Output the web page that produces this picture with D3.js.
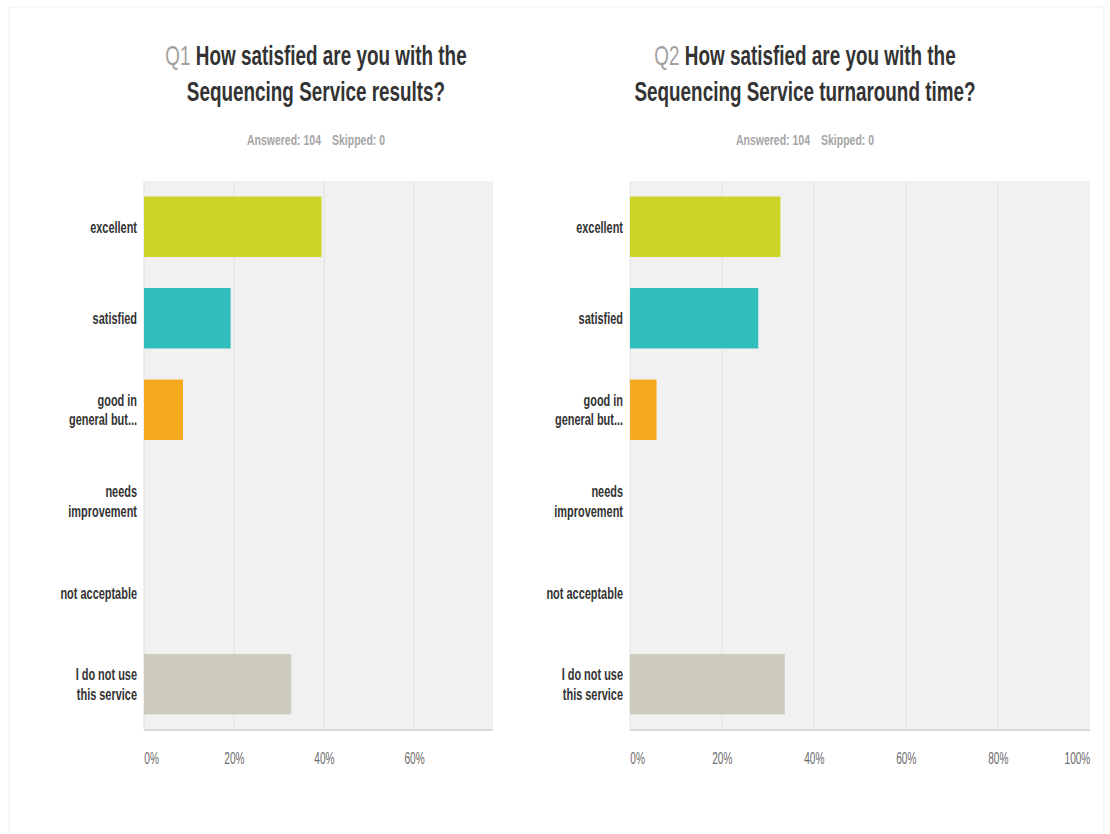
<!DOCTYPE html>
<html>
<head>
<meta charset="utf-8">
<script src="https://cdn.jsdelivr.net/npm/d3@7/dist/d3.min.js"></script>
<style>
  html, body { margin: 0; padding: 0; background: #ffffff; }
  svg { display: block; }
  text { font-family: "Liberation Sans", Arial, sans-serif; }
</style>
</head>
<body>
<svg id="chart" width="1110" height="834"></svg>
<script>
// Survey answers, share of respondents
const categories = ["excellent", "satisfied", "good in\ngeneral but...", "needs\nimprovement", "not acceptable", "I do not use\nthis service"];
const q1Values = [0.3942, 0.1923, 0.0865, 0, 0, 0.3269];
const q2Values = [0.3269, 0.2788, 0.0577, 0, 0, 0.3365];
const barColors = ["#cdd324", "#30bdbc", "#f6a81e", "#d3d3c7", "#c8c8c8", "#cccbbe"];
const q1Ticks = [0, 0.2, 0.4, 0.6];
const q2Ticks = [0, 0.2, 0.4, 0.6, 0.8, 1];
const q1Title = ["Q1", "How satisfied are you with the", "Sequencing Service results?"];
const q2Title = ["Q2", "How satisfied are you with the", "Sequencing Service turnaround time?"];
const answered = ["Answered: 104", "Skipped: 0"];

// Everything is drawn in a horizontally condensed frame
const K = 0.7;
const sx = px => px / K;

const svg = d3.select("#chart");
svg.append("rect").attr("width", 1110).attr("height", 834).attr("fill", "#fff");
// faint page frame
svg.append("path").attr("d", "M9,834V7H1104V834").attr("fill", "none")
  .attr("stroke", "#efefef").attr("stroke-width", 1);

const root = svg.append("g").attr("transform", `scale(${K},1)`);

const plotTop = 181, plotBottom = 730;
const y = d3.scaleBand().domain(categories).range([plotTop, plotBottom])
  .paddingInner(0.34).paddingOuter(0.17);

function panel(opts) {
  const { values, ticks, title, cx, x } = opts;
  const g = root.append("g");
  const [r0, r1] = x.range();

  // title
  const t1 = g.append("text").attr("x", sx(cx)).attr("y", 65)
    .attr("text-anchor", "middle").attr("font-size", 27);
  t1.append("tspan").attr("fill", "#a2a2a2").attr("font-weight", "normal").text(title[0] + " ");
  t1.append("tspan").attr("fill", "#333").attr("font-weight", "bold").text(title[1]);
  g.append("text").attr("x", sx(cx)).attr("y", 101)
    .attr("text-anchor", "middle").attr("font-size", 27)
    .attr("font-weight", "bold").attr("fill", "#333").text(title[2]);

  const sub = g.append("text").attr("x", sx(cx)).attr("y", 145)
    .attr("text-anchor", "middle").attr("font-size", 15)
    .attr("font-weight", "bold").attr("fill", "#a5a5a5");
  sub.append("tspan").text(answered[0]);
  sub.append("tspan").attr("dx", sx(11)).text(answered[1]);

  // plot background
  g.append("rect").attr("x", r0).attr("y", plotTop)
    .attr("width", r1 - r0).attr("height", plotBottom - plotTop)
    .attr("fill", "#f1f1f1");
  g.append("line").attr("x1", r0).attr("x2", r0).attr("y1", plotTop).attr("y2", plotBottom)
    .attr("stroke", "#e2e2e2").attr("vector-effect", "non-scaling-stroke");

  // vertical grid
  g.selectAll(".grid").data(ticks.filter(d => d > 0 && x(d) < r1 - 1)).join("line")
    .attr("class", "grid")
    .attr("x1", d => x(d)).attr("x2", d => x(d))
    .attr("y1", plotTop).attr("y2", plotBottom)
    .attr("stroke", "#e3e3e3").attr("stroke-width", 1)
    .attr("vector-effect", "non-scaling-stroke");

  // bars
  g.selectAll(".bar").data(values.map((v, i) => ({ v, c: categories[i], col: barColors[i] })))
    .join("rect").attr("class", "bar")
    .attr("x", x(0)).attr("y", d => y(d.c))
    .attr("width", d => x(d.v) - x(0)).attr("height", y.bandwidth())
    .attr("fill", d => d.col);

  // baseline under the plot
  g.append("rect").attr("x", r0).attr("y", plotBottom - 1)
    .attr("width", r1 - r0).attr("height", 2).attr("fill", "#dadada");

  // x axis
  const xa = g.append("g").attr("transform", `translate(0,${plotBottom})`)
    .call(d3.axisBottom(x).tickValues(ticks).tickFormat(d3.format(".0%")).tickSize(0));
  xa.select(".domain").remove();
  xa.selectAll("text")
    .attr("y", 34).attr("dy", 0)
    .attr("transform", "scale(0.85,1)")
    .attr("font-size", 17).attr("fill", "#6a6a6a")
    .attr("font-family", "'Liberation Sans', Arial, sans-serif")
    .attr("text-anchor", d => d === 0 ? "start" : (d === 1 ? "end" : "middle"));

  // category labels
  const ya = g.append("g").attr("transform", `translate(${r0 - sx(7)},0)`)
    .call(d3.axisLeft(y).tickSize(0).tickPadding(0));
  ya.select(".domain").remove();
  ya.selectAll("text").each(function(d) {
    const lines = d.split("\n");
    const el = d3.select(this).text(null)
      .attr("x", 0).attr("dy", null)
      .attr("transform", "scale(0.92,1)")
      .attr("font-size", 17).attr("font-weight", "bold").attr("fill", "#333")
      .attr("font-family", "'Liberation Sans', Arial, sans-serif")
      .attr("text-anchor", "end");
    const lh = 19.5;
    const start = -(lines.length - 1) * lh / 2;
    lines.forEach((ln, i) => {
      el.append("tspan").attr("x", 0)
        .attr("y", start + i * lh).attr("dy", "0.35em").text(ln);
    });
  });
}

panel({
  values: q1Values, ticks: q1Ticks, title: q1Title, cx: 316,
  x: d3.scaleLinear().domain([0, 0.775]).range([sx(144), sx(493)])
});
panel({
  values: q2Values, ticks: q2Ticks, title: q2Title, cx: 805,
  x: d3.scaleLinear().domain([0, 1]).range([sx(630), sx(1090)])
});
</script>
</body>
</html>
